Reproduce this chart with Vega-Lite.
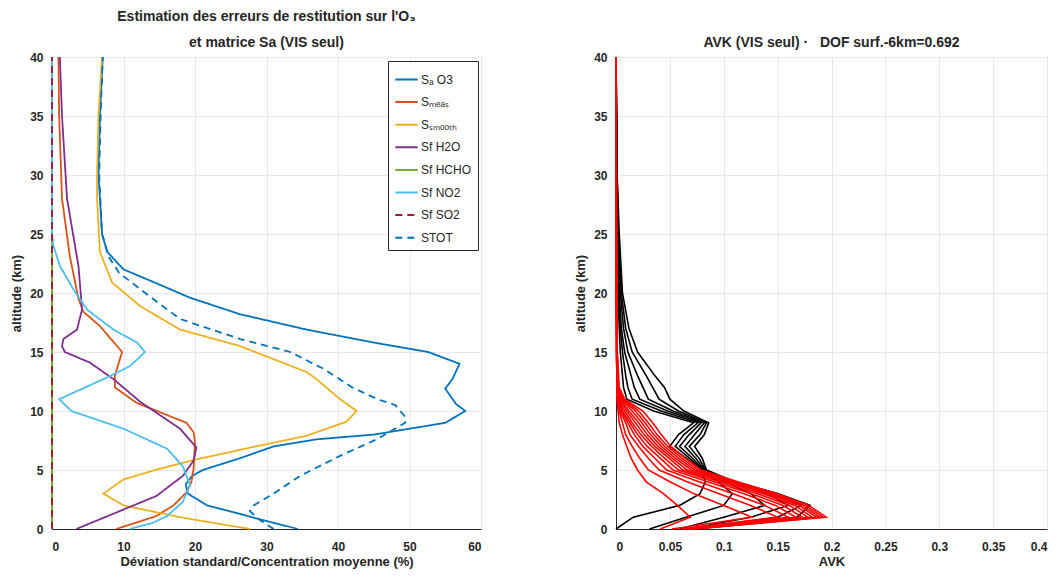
{
  "$schema": "https://vega.github.io/schema/vega-lite/v6.json",
  "background": "white",
  "padding": {"left": 10, "top": 9, "right": 5, "bottom": 5},
  "config": {
    "font": "Liberation Sans",
    "view": {"stroke": "#808080", "strokeWidth": 1},
    "axis": {
      "grid": true, "gridColor": "#e8e8e8", "domainColor": "#262626", "ticks": false,
      "labelColor": "#262626", "labelFontSize": 12, "labelFontWeight": "bold", "labelPadding": 9,
      "titleColor": "#262626", "titleFontSize": 13, "titleFontWeight": "bold"
    },
    "axisX": {"labelPadding": 12},
    "title": {"fontSize": 14, "fontWeight": "bold", "color": "#262626", "offset": 1}
  },
  "bounds": "flush",
  "spacing": 135,
  "datasets": {
    "err": [
      {"s":"Sₐ O3","a":0,"v":34.4},{"s":"Sₐ O3","a":1,"v":28},{"s":"Sₐ O3","a":2,"v":21.7},{"s":"Sₐ O3","a":3,"v":19},{"s":"Sₐ O3","a":3.8,"v":18.7},{"s":"Sₐ O3","a":4.5,"v":19.6},{"s":"Sₐ O3","a":5,"v":21.1},{"s":"Sₐ O3","a":6,"v":26.3},{"s":"Sₐ O3","a":7,"v":31},{"s":"Sₐ O3","a":7.6,"v":37},{"s":"Sₐ O3","a":8,"v":45},{"s":"Sₐ O3","a":8.5,"v":50},{"s":"Sₐ O3","a":9,"v":55},{"s":"Sₐ O3","a":10,"v":57.8},{"s":"Sₐ O3","a":10.6,"v":56.5},{"s":"Sₐ O3","a":11.9,"v":55},{"s":"Sₐ O3","a":12.7,"v":56},{"s":"Sₐ O3","a":14,"v":57},{"s":"Sₐ O3","a":15,"v":52.6},{"s":"Sₐ O3","a":15.8,"v":45},{"s":"Sₐ O3","a":16.9,"v":35.6},{"s":"Sₐ O3","a":18.2,"v":26.3},{"s":"Sₐ O3","a":19.6,"v":19.3},{"s":"Sₐ O3","a":20.8,"v":14.7},{"s":"Sₐ O3","a":22,"v":10},{"s":"Sₐ O3","a":23.5,"v":7.7},{"s":"Sₐ O3","a":25,"v":7},{"s":"Sₐ O3","a":28,"v":6.7},{"s":"Sₐ O3","a":30,"v":6.5},{"s":"Sₐ O3","a":35,"v":6.7},{"s":"Sₐ O3","a":40,"v":7.1},
      {"s":"Sₘₑₐₛ","a":0,"v":9},{"s":"Sₘₑₐₛ","a":1.1,"v":14.6},{"s":"Sₘₑₐₛ","a":2,"v":17},{"s":"Sₘₑₐₛ","a":3.1,"v":18.8},{"s":"Sₘₑₐₛ","a":4,"v":19.5},{"s":"Sₘₑₐₛ","a":5.1,"v":19.8},{"s":"Sₘₑₐₛ","a":7.4,"v":20},{"s":"Sₘₑₐₛ","a":8.2,"v":19.8},{"s":"Sₘₑₐₛ","a":9,"v":18.8},{"s":"Sₘₑₐₛ","a":10.7,"v":11.8},{"s":"Sₘₑₐₛ","a":12,"v":8.8},{"s":"Sₘₑₐₛ","a":13,"v":8.8},{"s":"Sₘₑₐₛ","a":15,"v":9.8},{"s":"Sₘₑₐₛ","a":17.2,"v":6.7},{"s":"Sₘₑₐₛ","a":18.4,"v":4.4},{"s":"Sₘₑₐₛ","a":19.5,"v":3.7},{"s":"Sₘₑₐₛ","a":23.1,"v":2.5},{"s":"Sₘₑₐₛ","a":28,"v":1.4},{"s":"Sₘₑₐₛ","a":35,"v":1.0},{"s":"Sₘₑₐₛ","a":40,"v":0.9},
      {"s":"Sₛₘₒₒₜₕ","a":0,"v":27.7},{"s":"Sₛₘₒₒₜₕ","a":1,"v":17.9},{"s":"Sₛₘₒₒₜₕ","a":2,"v":10},{"s":"Sₛₘₒₒₜₕ","a":3,"v":7.2},{"s":"Sₛₘₒₒₜₕ","a":4.2,"v":10},{"s":"Sₛₘₒₒₜₕ","a":5.1,"v":15},{"s":"Sₛₘₒₒₜₕ","a":5.9,"v":20.2},{"s":"Sₛₘₒₒₜₕ","a":7,"v":28.5},{"s":"Sₛₘₒₒₜₕ","a":7.9,"v":35.6},{"s":"Sₛₘₒₒₜₕ","a":9.1,"v":41.2},{"s":"Sₛₘₒₒₜₕ","a":10,"v":42.6},{"s":"Sₛₘₒₒₜₕ","a":11,"v":40.3},{"s":"Sₛₘₒₒₜₕ","a":12.7,"v":37},{"s":"Sₛₘₒₒₜₕ","a":13.3,"v":35.6},{"s":"Sₛₘₒₒₜₕ","a":15.5,"v":26.3},{"s":"Sₛₘₒₒₜₕ","a":16.9,"v":17.9},{"s":"Sₛₘₒₒₜₕ","a":18.9,"v":12.3},{"s":"Sₛₘₒₒₜₕ","a":20.9,"v":8.4},{"s":"Sₛₘₒₒₜₕ","a":23.5,"v":6.7},{"s":"Sₛₘₒₒₜₕ","a":28,"v":6.3},{"s":"Sₛₘₒₒₜₕ","a":30,"v":6.3},{"s":"Sₛₘₒₒₜₕ","a":35,"v":6.5},{"s":"Sₛₘₒₒₜₕ","a":40,"v":7.0},
      {"s":"Sf H2O","a":0,"v":3.4},{"s":"Sf H2O","a":1.4,"v":9},{"s":"Sf H2O","a":2.8,"v":14.6},{"s":"Sf H2O","a":4.5,"v":18.3},{"s":"Sf H2O","a":5.8,"v":19.8},{"s":"Sf H2O","a":6.9,"v":20.2},{"s":"Sf H2O","a":8.5,"v":17.9},{"s":"Sf H2O","a":10.8,"v":12.3},{"s":"Sf H2O","a":12.7,"v":8.6},{"s":"Sf H2O","a":14.1,"v":5.3},{"s":"Sf H2O","a":15,"v":1.8},{"s":"Sf H2O","a":15.5,"v":1.4},{"s":"Sf H2O","a":16.1,"v":1.6},{"s":"Sf H2O","a":16.9,"v":3.5},{"s":"Sf H2O","a":18.6,"v":4.2},{"s":"Sf H2O","a":22.3,"v":3.7},{"s":"Sf H2O","a":28,"v":2.1},{"s":"Sf H2O","a":35,"v":1.4},{"s":"Sf H2O","a":40,"v":1.1},
      {"s":"Sf HCHO","a":0,"v":0},{"s":"Sf HCHO","a":40,"v":0},
      {"s":"Sf NO2","a":0,"v":10.9},{"s":"Sf NO2","a":0.5,"v":14},{"s":"Sf NO2","a":1.1,"v":16.1},{"s":"Sf NO2","a":2.3,"v":18.3},{"s":"Sf NO2","a":3.7,"v":19.3},{"s":"Sf NO2","a":5.3,"v":18.3},{"s":"Sf NO2","a":6.8,"v":16.1},{"s":"Sf NO2","a":8.5,"v":10},{"s":"Sf NO2","a":10,"v":2.7},{"s":"Sf NO2","a":11,"v":1.0},{"s":"Sf NO2","a":12.7,"v":7.2},{"s":"Sf NO2","a":13.8,"v":10.9},{"s":"Sf NO2","a":15,"v":13},{"s":"Sf NO2","a":15.8,"v":11.9},{"s":"Sf NO2","a":16.9,"v":8.6},{"s":"Sf NO2","a":18.6,"v":4.9},{"s":"Sf NO2","a":20.3,"v":3},{"s":"Sf NO2","a":22.3,"v":1.1},{"s":"Sf NO2","a":24,"v":0.2},{"s":"Sf NO2","a":25,"v":0},{"s":"Sf NO2","a":40,"v":0},
      {"s":"Sf SO2","a":0,"v":0},{"s":"Sf SO2","a":40,"v":0},
      {"s":"STOT","a":0,"v":31},{"s":"STOT","a":0.8,"v":29},{"s":"STOT","a":1.5,"v":27.7},{"s":"STOT","a":2,"v":28.2},{"s":"STOT","a":3,"v":31},{"s":"STOT","a":4.5,"v":34.7},{"s":"STOT","a":6.2,"v":40.3},{"s":"STOT","a":7.6,"v":45.4},{"s":"STOT","a":9,"v":49.4},{"s":"STOT","a":9.5,"v":49.4},{"s":"STOT","a":10.5,"v":48},{"s":"STOT","a":11,"v":45.5},{"s":"STOT","a":12,"v":42},{"s":"STOT","a":13.6,"v":37.9},{"s":"STOT","a":15,"v":33.3},{"s":"STOT","a":16.1,"v":26.3},{"s":"STOT","a":17.8,"v":17.9},{"s":"STOT","a":19.7,"v":13.7},{"s":"STOT","a":21.7,"v":9.4},{"s":"STOT","a":23,"v":8},{"s":"STOT","a":25,"v":7},{"s":"STOT","a":30,"v":6.6},{"s":"STOT","a":35,"v":6.8},{"s":"STOT","a":40,"v":7.1}
    ],
    "avk_other": [
      {"a":0,"K1":0,"K2":0.031,"K3":0.059,"K4":0.066,"K5":0.07,"K6":0.074},
      {"a":1,"K1":0.016,"K2":0.065,"K3":0.1,"K4":0.125,"K5":0.15,"K6":0.168},
      {"a":2,"K1":0.059,"K2":0.1,"K3":0.138,"K4":0.16,"K5":0.172,"K6":0.18},
      {"a":3,"K1":0.078,"K2":0.108,"K3":0.125,"K4":0.14,"K5":0.145,"K6":0.15},
      {"a":4,"K1":0.083,"K2":0.095,"K3":0.1,"K4":0.105,"K5":0.108,"K6":0.11},
      {"a":5,"K1":0.079,"K2":0.08,"K3":0.081,"K4":0.082,"K5":0.083,"K6":0.084},
      {"a":6,"K1":0.065,"K2":0.068,"K3":0.071,"K4":0.074,"K5":0.077,"K6":0.08},
      {"a":7,"K1":0.05,"K2":0.055,"K3":0.059,"K4":0.064,"K5":0.068,"K6":0.073},
      {"a":8,"K1":0.058,"K2":0.063,"K3":0.068,"K4":0.073,"K5":0.078,"K6":0.082},
      {"a":9,"K1":0.072,"K2":0.076,"K3":0.079,"K4":0.082,"K5":0.084,"K6":0.086},
      {"a":10,"K1":0.035,"K2":0.042,"K3":0.048,"K4":0.053,"K5":0.058,"K6":0.063},
      {"a":11,"K1":0.01,"K2":0.015,"K3":0.022,"K4":0.03,"K5":0.04,"K6":0.05},
      {"a":12,"K1":0.007,"K2":0.011,"K3":0.017,"K4":0.025,"K5":0.034,"K6":0.045},
      {"a":13,"K1":0.006,"K2":0.009,"K3":0.014,"K4":0.02,"K5":0.028,"K6":0.036},
      {"a":15,"K1":0.004,"K2":0.006,"K3":0.008,"K4":0.011,"K5":0.015,"K6":0.02},
      {"a":17,"K1":0.003,"K2":0.004,"K3":0.005,"K4":0.007,"K5":0.009,"K6":0.012},
      {"a":20,"K1":0.002,"K2":0.002,"K3":0.003,"K4":0.004,"K5":0.005,"K6":0.006},
      {"a":25,"K1":0.001,"K2":0.001,"K3":0.0015,"K4":0.002,"K5":0.002,"K6":0.003},
      {"a":30,"K1":0.0005,"K2":0.0005,"K3":0.001,"K4":0.001,"K5":0.001,"K6":0.001},
      {"a":40,"K1":0,"K2":0,"K3":0,"K4":0,"K5":0,"K6":0}
    ],
    "avk_low": [
      {"a":0,"R01":0.041,"R02":0.052,"R03":0.06,"R04":0.063,"R05":0.065,"R06":0.067,"R07":0.068,"R08":0.069,"R09":0.07,"R10":0.071,"R11":0.072,"R12":0.073},
      {"a":1,"R01":0.069,"R02":0.126,"R03":0.15,"R04":0.16,"R05":0.167,"R06":0.173,"R07":0.178,"R08":0.182,"R09":0.186,"R10":0.189,"R11":0.192,"R12":0.195},
      {"a":2,"R01":0.057,"R02":0.1,"R03":0.125,"R04":0.138,"R05":0.148,"R06":0.155,"R07":0.161,"R08":0.166,"R09":0.17,"R10":0.173,"R11":0.176,"R12":0.179},
      {"a":3,"R01":0.044,"R02":0.072,"R03":0.095,"R04":0.108,"R05":0.118,"R06":0.125,"R07":0.131,"R08":0.136,"R09":0.14,"R10":0.143,"R11":0.146,"R12":0.149},
      {"a":4,"R01":0.028,"R02":0.05,"R03":0.066,"R04":0.077,"R05":0.085,"R06":0.091,"R07":0.096,"R08":0.1,"R09":0.104,"R10":0.107,"R11":0.11,"R12":0.113},
      {"a":5,"R01":0.02,"R02":0.03,"R03":0.04,"R04":0.047,"R05":0.053,"R06":0.058,"R07":0.062,"R08":0.066,"R09":0.07,"R10":0.073,"R11":0.076,"R12":0.079},
      {"a":6,"R01":0.014,"R02":0.022,"R03":0.03,"R04":0.036,"R05":0.041,"R06":0.045,"R07":0.049,"R08":0.052,"R09":0.055,"R10":0.058,"R11":0.061,"R12":0.064},
      {"a":7,"R01":0.01,"R02":0.015,"R03":0.021,"R04":0.025,"R05":0.029,"R06":0.033,"R07":0.036,"R08":0.039,"R09":0.042,"R10":0.045,"R11":0.048,"R12":0.051},
      {"a":8,"R01":0.006,"R02":0.009,"R03":0.013,"R04":0.017,"R05":0.02,"R06":0.023,"R07":0.026,"R08":0.029,"R09":0.032,"R10":0.035,"R11":0.038,"R12":0.042},
      {"a":9,"R01":0.003,"R02":0.006,"R03":0.009,"R04":0.011,"R05":0.013,"R06":0.015,"R07":0.018,"R08":0.021,"R09":0.024,"R10":0.027,"R11":0.03,"R12":0.034},
      {"a":10,"R01":0.002,"R02":0.003,"R03":0.004,"R04":0.005,"R05":0.006,"R06":0.008,"R07":0.01,"R08":0.012,"R09":0.015,"R10":0.018,"R11":0.021,"R12":0.025},
      {"a":11,"R01":0.001,"R02":0.001,"R03":0.002,"R04":0.002,"R05":0.003,"R06":0.003,"R07":0.004,"R08":0.004,"R09":0.005,"R10":0.006,"R11":0.007,"R12":0.008},
      {"a":12,"R01":0.001,"R02":0.001,"R03":0.001,"R04":0.001,"R05":0.001,"R06":0.0015,"R07":0.0015,"R08":0.002,"R09":0.002,"R10":0.002,"R11":0.002,"R12":0.003},
      {"a":15,"R01":0.0005,"R02":0.0005,"R03":0.0005,"R04":0.0005,"R05":0.0008,"R06":0.0008,"R07":0.0008,"R08":0.001,"R09":0.001,"R10":0.001,"R11":0.001,"R12":0.0012},
      {"a":20,"R01":0.0003,"R02":0.0003,"R03":0.0003,"R04":0.0003,"R05":0.0004,"R06":0.0004,"R07":0.0004,"R08":0.0005,"R09":0.0005,"R10":0.0005,"R11":0.0005,"R12":0.0006},
      {"a":40,"R01":0,"R02":0,"R03":0,"R04":0,"R05":0,"R06":0,"R07":0,"R08":0,"R09":0,"R10":0,"R11":0,"R12":0}
    ]
  },
  "hconcat": [
    {
      "width": 429,
      "height": 472,
      "title": {"text": ["Estimation des erreurs de restitution sur l'O₃", "et matrice Sa (VIS seul)"], "lineHeight": 26},
      "data": {"name": "err"},
      "mark": {"type": "line", "strokeWidth": 1.8},
      "encoding": {
        "x": {"field": "v", "type": "quantitative", "scale": {"domain": [0, 60], "nice": false},
              "axis": {"values": [0,10,20,30,40,50,60], "title": "Déviation standard/Concentration moyenne (%)", "titlePadding": 3}},
        "y": {"field": "a", "type": "quantitative", "scale": {"domain": [0, 40], "nice": false},
              "axis": {"values": [0,5,10,15,20,25,30,35,40], "title": "altitude (km)", "titlePadding": 6}},
        "order": {"field": "a", "type": "quantitative"},
        "color": {"field": "s", "type": "nominal",
          "scale": {"domain": ["Sₐ O3","Sₘₑₐₛ","Sₛₘₒₒₜₕ","Sf H2O","Sf HCHO","Sf NO2","Sf SO2","STOT"],
                    "range": ["#0072BD","#D95319","#EDB120","#7E2F8E","#77AC30","#4DBEEE","#A2142F","#0072BD"]},
          "legend": {"title": null, "orient": "none", "legendX": 336, "legendY": 4, "symbolType": "stroke", "symbolSize": 500, "symbolStrokeWidth": 2,
                     "labelFontSize": 12, "labelColor": "#262626", "rowPadding": 3.6, "padding": 6,
                     "strokeColor": "#262626", "fillColor": "white", "symbolOffset": 0, "labelOffset": 2}},
        "strokeDash": {"field": "s", "type": "nominal",
          "scale": {"domain": ["Sₐ O3","Sₘₑₐₛ","Sₛₘₒₒₜₕ","Sf H2O","Sf HCHO","Sf NO2","Sf SO2","STOT"],
                    "range": [[1,0],[1,0],[1,0],[1,0],[1,0],[1,0],[7,5],[7,5]]},
          "legend": {"title": null, "orient": "none", "legendX": 336, "legendY": 4}}
      }
    },
    {
      "width": 431,
      "height": 472,
      "title": {"text": "AVK (VIS seul) ·\u00a0\u00a0\u00a0DOF surf.-6km=0.692"},
      "layer": [
        {
          "data": {"name": "avk_other"},
          "transform": [{"fold": ["K1","K2","K3","K4","K5","K6"], "as": ["k", "v"]}],
          "mark": {"type": "line", "color": "black", "strokeWidth": 1.6},
          "encoding": {
            "x": {"field": "v", "type": "quantitative", "scale": {"domain": [0, 0.4], "nice": false},
                  "axis": {"values": [0,0.05,0.1,0.15,0.2,0.25,0.3,0.35,0.4], "format": "~g", "title": "AVK", "titlePadding": 3}},
            "y": {"field": "a", "type": "quantitative", "scale": {"domain": [0, 40], "nice": false},
                  "axis": {"values": [0,5,10,15,20,25,30,35,40], "title": "altitude (km)", "titlePadding": 6}},
            "detail": {"field": "k"},
            "order": {"field": "a", "type": "quantitative"}
          }
        },
        {
          "data": {"name": "avk_low"},
          "transform": [{"fold": ["R01","R02","R03","R04","R05","R06","R07","R08","R09","R10","R11","R12"], "as": ["k", "v"]}],
          "mark": {"type": "line", "color": "#ff0000", "strokeWidth": 1.6},
          "encoding": {
            "x": {"field": "v", "type": "quantitative"},
            "y": {"field": "a", "type": "quantitative"},
            "detail": {"field": "k"},
            "order": {"field": "a", "type": "quantitative"}
          }
        }
      ]
    }
  ]
}
